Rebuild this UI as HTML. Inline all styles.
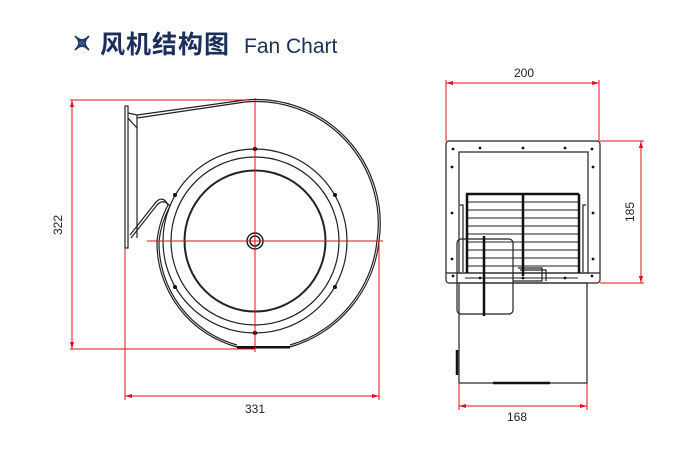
<!DOCTYPE html>
<html><head><meta charset="utf-8"><style>
body{margin:0;background:#fff;width:696px;height:450px;overflow:hidden}
</style></head><body>
<svg width="696" height="450" viewBox="0 0 696 450" xmlns="http://www.w3.org/2000/svg" font-family="Liberation Sans, sans-serif">
<!-- title -->
<g stroke="#1f3a6e" stroke-width="1.8" fill="none">
<path d="M75 36 L89 50 M89 36 L75 50"/>
<path d="M76 37 Q82 43 88 37 M76 49 Q82 43 88 49 M76 37 Q82 43 76 49 M88 37 Q82 43 88 49"/>
</g>
<text x="100" y="53" font-family="Liberation Sans, Noto Sans CJK SC, sans-serif" font-weight="bold" font-size="25" letter-spacing="1" fill="#1a2f5c">风机结构图</text>
<text x="244" y="53" font-size="21" fill="#1a2f5c">Fan Chart</text>

<!-- LEFT VIEW -->
<g fill="none" stroke="#222" stroke-width="1.2">
<rect x="125" y="106" width="3" height="142"/>
<path d="M128 113 L137 115 L137 238"/>
<path d="M128 118 L137 128"/>
<path d="M137 115 L245 100"/>
<path d="M137 118 L245 102"/>
<path d="M245 100 A124 124 0 0 1 379 241 A124 124 0 0 1 290 347 L237 347 A108 108 0 0 1 157 241 A100 100 0 0 1 168 205 Q163 195 156 202 L130 235"/>
<path d="M245 102 A122 122 0 0 1 377 241 A122 122 0 0 1 290 345 M237 345 A106 106 0 0 1 159 241 A98 98 0 0 1 170 206 Q163 198 157 205 L131 238"/>
<circle cx="255" cy="241" r="92"/>
<circle cx="255" cy="241" r="84"/>
<circle cx="255" cy="241" r="70.5" stroke-width="2"/>
<circle cx="255" cy="241" r="8" stroke-width="1.5"/>
<circle cx="255" cy="241" r="5" stroke-width="1.5"/>
</g>
<rect x="237" y="346" width="53" height="2.5" fill="#111"/>
<g fill="#111">
<circle cx="255" cy="149" r="2.2"/><circle cx="255" cy="333" r="2.2"/>
<circle cx="175" cy="195" r="2"/><circle cx="335" cy="195" r="2"/>
<circle cx="175" cy="287" r="2"/><circle cx="335" cy="287" r="2"/>
</g>
<g stroke="#e0101a" stroke-width="1" fill="none">
<path d="M70 100 L250 100 M70 349 L255 349 M72 100 L72 349"/>
<path d="M255 98 L255 352 M147 241 L383 241"/>
<path d="M125 248 L125 400 M379 241 L379 400 M125 396 L379 396"/>
</g>
<g fill="#e0101a">
<path d="M72 100 l-2 7 h4z M72 349 l-2 -7 h4z M125 396 l7 -2 v4z M379 396 l-7 -2 v4z"/>
</g>
<text x="255" y="413" font-size="12" text-anchor="middle" fill="#222">331</text>
<text transform="translate(62,225) rotate(-90)" font-size="12" text-anchor="middle" fill="#222">322</text>

<!-- RIGHT VIEW -->
<g fill="none" stroke="#222" stroke-width="1.2">
<rect x="446" y="141" width="154" height="142" rx="3"/>
<rect x="459" y="152" width="129" height="121"/>
<path d="M446 273 L600 273"/>
<rect x="459" y="283" width="128" height="100"/>
<rect x="457" y="239" width="56" height="75" rx="4"/>
<path d="M518 268 L542 268 L542 281 L513 281 M520 270 L546 270 L546 281"/>
<path d="M460 205 L463 205 L463 272 M586 205 L583 205 L583 272"/>
</g>
<g stroke="#222" stroke-width="1">
<path d="M466 202h113 M466 210h113 M466 218h113 M466 226h113 M466 234h113 M466 242h113 M466 250h113 M466 258h113 M466 266h113"/>
<path d="M465 278h40 M503 278h75"/>
</g>
<g stroke="#111" stroke-width="2.5">
<path d="M466 194h113 M467 194v79 M579 194v79 M523 194v82 M484 236v80"/>
<path d="M493 383h57 M457 350v25"/>
</g>
<g fill="#111">
<circle cx="453" cy="149" r="1.4"/><circle cx="480" cy="148" r="1.4"/><circle cx="523" cy="148" r="1.4"/><circle cx="565" cy="148" r="1.4"/><circle cx="592" cy="149" r="1.4"/>
<circle cx="452" cy="167" r="1.4"/><circle cx="593" cy="167" r="1.4"/>
<circle cx="452" cy="213" r="1.4"/><circle cx="593" cy="213" r="1.4"/>
<circle cx="452" cy="259" r="1.4"/><circle cx="593" cy="259" r="1.4"/>
<circle cx="453" cy="276" r="1.4"/><circle cx="480" cy="278" r="1.4"/><circle cx="523" cy="278" r="1.4"/><circle cx="565" cy="278" r="1.4"/><circle cx="592" cy="276" r="1.4"/>
</g>
<g stroke="#e0101a" stroke-width="1" fill="none">
<path d="M446 80 L446 141 M599 80 L599 141 M446 83 L599 83"/>
<path d="M600 141 L644 141 M600 283 L644 283 M641 141 L641 283"/>
<path d="M459 383 L459 410 M587 383 L587 410 M459 406 L587 406"/>
</g>
<g fill="#e0101a">
<path d="M446 83 l7 -2 v4z M599 83 l-7 -2 v4z M641 141 l-2 7 h4z M641 283 l-2 -7 h4z M459 406 l7 -2 v4z M587 406 l-7 -2 v4z"/>
</g>
<text x="524" y="77" font-size="12" text-anchor="middle" fill="#222">200</text>
<text x="517" y="421" font-size="12" text-anchor="middle" fill="#222">168</text>
<text transform="translate(634,212) rotate(-90)" font-size="12" text-anchor="middle" fill="#222">185</text>
</svg>
</body></html>
